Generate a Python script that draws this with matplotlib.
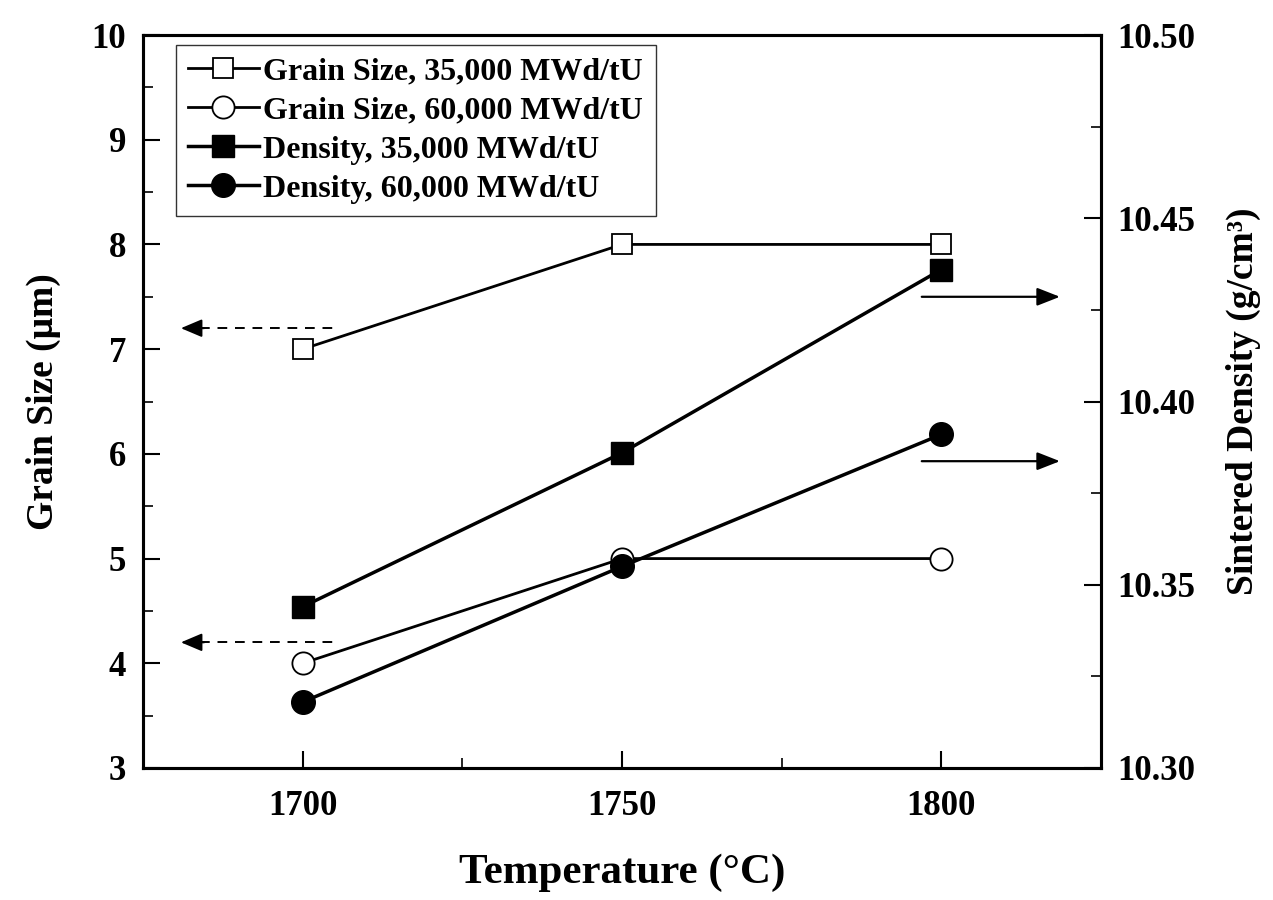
import matplotlib.pyplot as plt
from matplotlib.ticker import MultipleLocator

plt.rcParams['font.family'] = ['Liberation Serif', 'DejaVu Serif']
plt.rcParams['font.weight'] = 'bold'
plt.rcParams['axes.labelweight'] = 'bold'

temps = [1700, 1750, 1800]
grain_35k = [7.0, 8.0, 8.0]
grain_60k = [4.0, 5.0, 5.0]
density_35k = [10.344, 10.386, 10.436]
density_60k = [10.318, 10.355, 10.391]

fig = plt.figure(figsize=(12.73, 9.0), dpi=100)
ax = fig.add_axes([143 / 1273, 1 - 768 / 900, (1101 - 143) / 1273, (768 - 35) / 900])
ax2 = ax.twinx()

h1, = ax.plot(temps, grain_35k, '-', color='black', lw=2, marker='s', ms=15,
              mfc='white', mec='black', mew=1.3, label='Grain Size, 35,000 MWd/tU')
h2, = ax.plot(temps, grain_60k, '-', color='black', lw=2, marker='o', ms=16,
              mfc='white', mec='black', mew=1.3, label='Grain Size, 60,000 MWd/tU')
h3, = ax2.plot(temps, density_35k, '-', color='black', lw=2.5, marker='s', ms=16,
               mfc='black', mec='black', label='Density, 35,000 MWd/tU')
h4, = ax2.plot(temps, density_60k, '-', color='black', lw=2.5, marker='o', ms=17,
               mfc='black', mec='black', label='Density, 60,000 MWd/tU')

ax.set_xlim(1675, 1825)
ax.set_ylim(3, 10)
ax2.set_ylim(10.30, 10.50)

# axis indicator arrows: dashed shaft + solid head to the left axis
for y in [7.2, 4.2]:
    ax.plot([1684, 1705.2], [y, y], color='black', lw=1.4, ls=(0, (5, 4)))
    ax.annotate('', xy=(1680.5, y), xytext=(1685, y),
                arrowprops=dict(arrowstyle='-|>,head_length=1.3,head_width=0.55',
                                color='black', lw=1.4))
for y in [7.5, 5.93]:
    ax.annotate('', xy=(1819, y), xytext=(1796.5, y),
                arrowprops=dict(arrowstyle='-|>,head_length=1.4,head_width=0.55',
                                color='black', lw=1.6))

ax.xaxis.set_major_locator(MultipleLocator(50))
ax.xaxis.set_minor_locator(MultipleLocator(25))
ax.yaxis.set_major_locator(MultipleLocator(1))
ax.yaxis.set_minor_locator(MultipleLocator(0.5))
ax2.yaxis.set_major_locator(MultipleLocator(0.05))
ax2.yaxis.set_minor_locator(MultipleLocator(0.025))
ax2.yaxis.set_major_formatter(plt.FormatStrFormatter('%.2f'))

ax.tick_params(axis='both', which='major', direction='in', length=12, width=1.5,
               labelsize=25, pad=12)
ax.tick_params(axis='both', which='minor', direction='in', length=7, width=1.2)
ax.tick_params(axis='x', which='major', pad=16)
ax2.tick_params(axis='y', which='major', direction='in', length=12, width=1.5,
                labelsize=25, pad=12)
ax2.tick_params(axis='y', which='minor', direction='in', length=7, width=1.2)
for a in (ax, ax2):
    for s in a.spines.values():
        s.set_linewidth(2.2)

ax.set_xlabel('Temperature (°C)', fontsize=31, labelpad=22)
ax.set_ylabel('Grain Size (μm)', fontsize=27, labelpad=22)
ax2.set_ylabel('Sintered Density (g/cm³)', fontsize=27, labelpad=22)

leg = ax.legend(handles=[h1, h2, h3, h4], loc='upper left',
                bbox_to_anchor=(0.034, 0.987), fontsize=23, frameon=True,
                fancybox=False, edgecolor='black', handlelength=2.2,
                handletextpad=0.15, labelspacing=0.3, borderpad=0.4,
                borderaxespad=0.0)
leg.get_frame().set_linewidth(1.0)

fig.savefig('out.png', dpi=100)
